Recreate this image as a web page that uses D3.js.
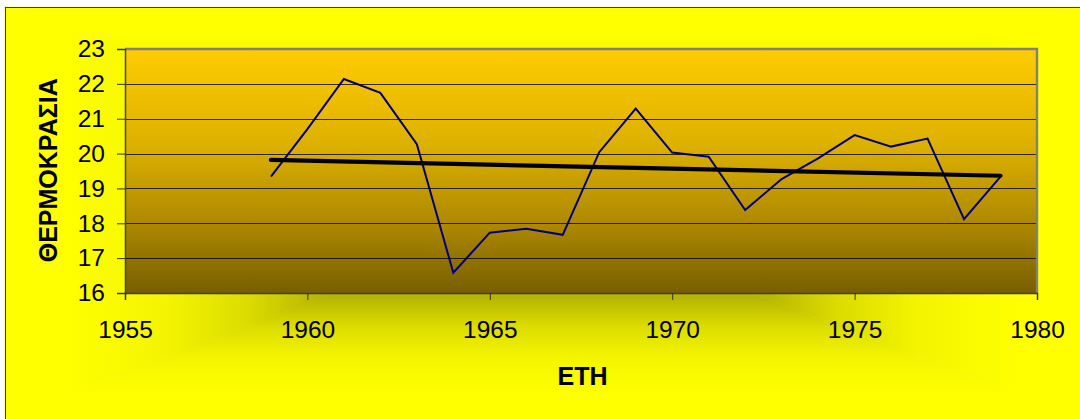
<!DOCTYPE html>
<html>
<head>
<meta charset="utf-8">
<script src="https://cdn.jsdelivr.net/npm/d3@7"></script>
<style>
  html, body { margin: 0; padding: 0; background: #ffffff; }
  svg { display: block; }
</style>
</head>
<body>
<svg id="chart" width="1080" height="419"></svg>
<script>
// ---- data ----
const years = [1959, 1960, 1961, 1962, 1963, 1964, 1965, 1966, 1967, 1968, 1969,
               1970, 1971, 1972, 1973, 1974, 1975, 1976, 1977, 1978, 1979];
const temperatures = [19.34, 20.7, 22.14, 21.74, 20.27, 16.58, 17.73, 17.84, 17.67, 20.04, 21.29,
                      20.03, 19.91, 18.38, 19.27, 19.86, 20.53, 20.2, 20.43, 18.12, 19.34];
const xTicks = [1955, 1960, 1965, 1970, 1975, 1980];
const yTicks = [16, 17, 18, 19, 20, 21, 22, 23];
const xTitle = "ETH";
const yTitle = "ΘΕΡΜΟΚΡΑΣΙΑ";

const W = 1080, H = 419;
const svg = d3.select("#chart");
const defs = svg.append("defs");

// ---- chart area background: rectangular "from centre" gradient ----
const area = {x0: 5, y0: 7, x1: 1080, y1: 419};
const cx = (area.x0 + area.x1) / 2, cy = (area.y0 + area.y1) / 2;
const bgStops = [
  {o: 0.00, c: "#ffff00"},
  {o: 0.12, c: "#ffff00"},
  {o: 0.30, c: "#f4f400"},
  {o: 0.45, c: "#dcdc00"},
  {o: 0.58, c: "#b8b800"},
  {o: 1.00, c: "#787800"}
];
function makeGrad(id, x1, y1, x2, y2) {
  const g = defs.append("linearGradient").attr("id", id)
    .attr("gradientUnits", "userSpaceOnUse")
    .attr("x1", x1).attr("y1", y1).attr("x2", x2).attr("y2", y2);
  g.selectAll("stop").data(bgStops).join("stop")
    .attr("offset", d => d.o).attr("stop-color", d => d.c);
}
makeGrad("gTop", cx, area.y0, cx, cy);
makeGrad("gBot", cx, area.y1, cx, cy);
makeGrad("gLeft", area.x0, cy, cx, cy);
makeGrad("gRight", area.x1, cy, cx, cy);
const tris = [
  {id: "gTop", pts: [[area.x0, area.y0], [area.x1, area.y0], [cx, cy]]},
  {id: "gBot", pts: [[area.x0, area.y1], [area.x1, area.y1], [cx, cy]]},
  {id: "gLeft", pts: [[area.x0, area.y0], [area.x0, area.y1], [cx, cy]]},
  {id: "gRight", pts: [[area.x1, area.y0], [area.x1, area.y1], [cx, cy]]}
];
svg.append("g").selectAll("polygon").data(tris).join("polygon")
  .attr("points", d => d.pts.map(p => p.join(",")).join(" "))
  .attr("fill", d => `url(#${d.id})`)
  .attr("stroke", d => `url(#${d.id})`)
  .attr("stroke-width", 0.6);
svg.append("rect")
  .attr("x", area.x0 + 0.5).attr("y", area.y0 + 0.5)
  .attr("width", area.x1 - area.x0 + 20).attr("height", area.y1 - area.y0 + 20)
  .attr("fill", "none").attr("stroke", "#3a3a3a").attr("stroke-width", 1);

// ---- plot area ----
const plot = {left: 125, top: 49, right: 1037, bottom: 293};
const x = d3.scaleLinear().domain([1955, 1980]).range([plot.left, plot.right]);
const y = d3.scaleLinear().domain([16, 23]).range([plot.bottom, plot.top]);

const pg = defs.append("linearGradient").attr("id", "plotGrad")
  .attr("x1", 0).attr("y1", 0).attr("x2", 0).attr("y2", 1);
pg.selectAll("stop").data([
  {o: 0, c: "#ffcc00"}, {o: 0.4, c: "#dcb000"}, {o: 0.72, c: "#ad8800"}, {o: 1, c: "#785e00"}
]).join("stop").attr("offset", d => d.o).attr("stop-color", d => d.c);

svg.append("rect")
  .attr("x", plot.left).attr("y", plot.top)
  .attr("width", plot.right - plot.left).attr("height", plot.bottom - plot.top)
  .attr("fill", "url(#plotGrad)");

// gridlines
svg.append("g").selectAll("line").data(yTicks.filter(t => t > 16 && t < 23)).join("line")
  .attr("x1", plot.left).attr("x2", plot.right)
  .attr("y1", d => Math.round(y(d)) + 0.5).attr("y2", d => Math.round(y(d)) + 0.5)
  .attr("stroke", "#000").attr("stroke-opacity", 0.78).attr("stroke-width", 1);

// plot border (top/right grey)
svg.append("path")
  .attr("d", `M${plot.left},${plot.top} H${plot.right} V${plot.bottom}`)
  .attr("fill", "none").attr("stroke", "#808080").attr("stroke-width", 2.4);

const font = "Arial, 'Liberation Sans', sans-serif";

// y axis
const yAxis = svg.append("g").attr("transform", `translate(${plot.left},0)`)
  .call(d3.axisLeft(y).tickValues(yTicks).tickFormat(d3.format("d")).tickSize(8).tickPadding(12));
yAxis.select(".domain").attr("stroke", "#444").attr("stroke-width", 1.5);
yAxis.selectAll(".tick line").attr("stroke", "#333");
yAxis.selectAll("text").attr("font-family", font).attr("font-size", 24.5).attr("fill", "#000");

// x axis
const xAxis = svg.append("g").attr("transform", `translate(0,${plot.bottom})`)
  .call(d3.axisBottom(x).tickValues(xTicks).tickFormat(d3.format("d")).tickSize(7).tickPadding(21));
xAxis.select(".domain").attr("stroke", "#3c3c50").attr("stroke-width", 1.5);
xAxis.selectAll(".tick line").attr("stroke", "#333");
xAxis.selectAll("text").attr("font-family", font).attr("font-size", 24.5).attr("fill", "#000");

// data line
const pts = years.map((yr, i) => [yr, temperatures[i]]);
svg.append("path").datum(pts)
  .attr("d", d3.line().x(d => x(d[0])).y(d => y(d[1])))
  .attr("fill", "none").attr("stroke", "#000080").attr("stroke-width", 2)
  .attr("stroke-linejoin", "miter");

// linear trend line (least squares from the data)
const mx = d3.mean(years), my = d3.mean(temperatures);
const slope = d3.sum(years, (yr, i) => (yr - mx) * (temperatures[i] - my)) /
              d3.sum(years, yr => (yr - mx) * (yr - mx));
const trend = [years[0], years[years.length - 1]].map(yr => [yr, my + slope * (yr - mx)]);
svg.append("path").datum(trend)
  .attr("d", d3.line().x(d => x(d[0])).y(d => y(d[1])))
  .attr("fill", "none").attr("stroke", "#000").attr("stroke-width", 4.2)
  .attr("stroke-linecap", "round");

// titles
svg.append("text")
  .attr("x", (plot.left + plot.right) / 2 + 1.5).attr("y", 385)
  .attr("text-anchor", "middle")
  .attr("font-family", font).attr("font-weight", "bold").attr("font-size", 25)
  .text(xTitle);
svg.append("text")
  .attr("transform", "translate(56.5,170.3) rotate(-90)")
  .attr("text-anchor", "middle")
  .attr("font-family", font).attr("font-weight", "bold").attr("font-size", 25)
  .text(yTitle);
</script>
</body>
</html>
